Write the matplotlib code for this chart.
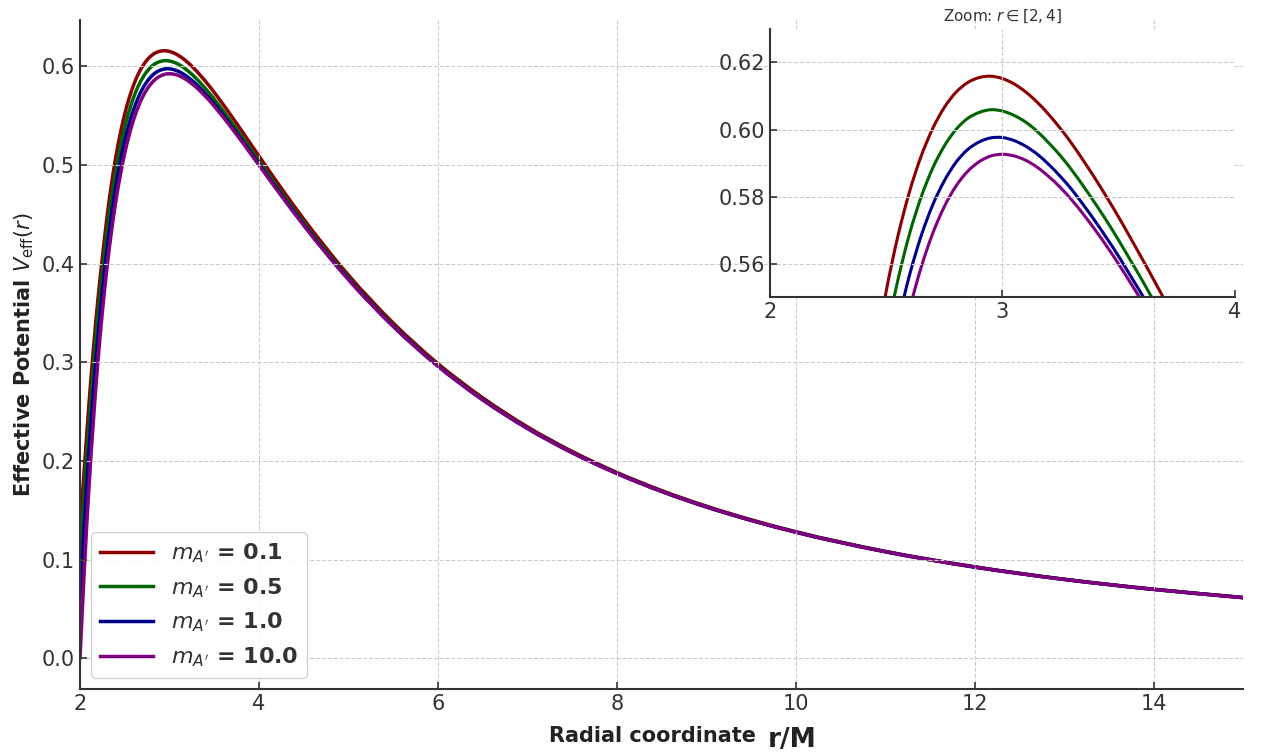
import numpy as np
import matplotlib
matplotlib.use("Agg")
import matplotlib.pyplot as plt
from matplotlib.path import Path
from matplotlib.patches import PathPatch
from matplotlib.lines import Line2D

# ---------------------------------------------------------------------------
# Data
# ---------------------------------------------------------------------------

r_vals = [2.0, 2.05, 2.1, 2.15, 2.2, 2.25, 2.3, 2.35, 2.4, 2.45, 2.5, 2.55,
          2.6, 2.65, 2.7, 2.75, 2.8, 2.85, 2.9, 2.95, 3.0, 3.05, 3.1, 3.15,
          3.2, 3.25, 3.3, 3.35, 3.4, 3.45, 3.5, 3.55, 3.6, 3.65, 3.7, 3.8,
          3.9, 4.0, 4.25, 4.5, 5.0, 5.5, 6.0, 6.5, 7.0, 7.5, 8.0, 8.5, 9.0,
          9.5, 10.0, 11.0, 12.0, 13.0, 14.0, 15.0]

v_m01 = [0.1300, 0.1950, 0.2580, 0.3140, 0.3640, 0.4063, 0.4460, 0.4797,
         0.5081, 0.5319, 0.5518, 0.5681, 0.5814, 0.5920, 0.6003, 0.6066,
         0.6111, 0.6140, 0.6155, 0.6159, 0.6152, 0.6136, 0.6112, 0.6081,
         0.6044, 0.6002, 0.5956, 0.5905, 0.5852, 0.5796, 0.5738, 0.5677,
         0.5615, 0.5552, 0.5488, 0.5358, 0.5225, 0.5093, 0.4766, 0.4454,
         0.3886, 0.3401, 0.2989, 0.2643, 0.2348, 0.2099, 0.1886, 0.1702,
         0.1544, 0.1406, 0.1285, 0.1086, 0.0929, 0.0803, 0.0702, 0.0618]

v_m05 = [0.0950, 0.1700, 0.2368, 0.2955, 0.3470, 0.3909, 0.4309, 0.4650,
         0.4939, 0.5181, 0.5383, 0.5550, 0.5688, 0.5798, 0.5885, 0.5951,
         0.6000, 0.6033, 0.6051, 0.6059, 0.6055, 0.6042, 0.6022, 0.5994,
         0.5959, 0.5921, 0.5877, 0.5829, 0.5778, 0.5725, 0.5669, 0.5610,
         0.5551, 0.5489, 0.5427, 0.5300, 0.5171, 0.5042, 0.4722, 0.4417,
         0.3858, 0.3378, 0.2972, 0.2628, 0.2337, 0.2090, 0.1878, 0.1695,
         0.1538, 0.1401, 0.1281, 0.1083, 0.0927, 0.0802, 0.0700, 0.0617]

v_m1 = [0.0600, 0.1399, 0.2108, 0.2725, 0.3265, 0.3728, 0.4138, 0.4488,
        0.4785, 0.5035, 0.5246, 0.5421, 0.5565, 0.5682, 0.5775, 0.5847,
        0.5902, 0.5940, 0.5963, 0.5975, 0.5976, 0.5967, 0.5950, 0.5926,
        0.5895, 0.5859, 0.5819, 0.5773, 0.5725, 0.5674, 0.5621, 0.5564,
        0.5507, 0.5447, 0.5387, 0.5264, 0.5138, 0.5011, 0.4697, 0.4396,
        0.3844, 0.3368, 0.2964, 0.2622, 0.2332, 0.2086, 0.1875, 0.1693,
        0.1536, 0.1400, 0.1280, 0.1082, 0.0926, 0.0801, 0.0700, 0.0616]

v_m10 = [0.0000, 0.0929, 0.1728, 0.2415, 0.3005, 0.3512, 0.3945, 0.4315,
         0.4630, 0.4896, 0.5120, 0.5307, 0.5462, 0.5588, 0.5690, 0.5770,
         0.5831, 0.5875, 0.5904, 0.5921, 0.5926, 0.5921, 0.5908, 0.5887,
         0.5859, 0.5826, 0.5788, 0.5745, 0.5699, 0.5650, 0.5598, 0.5543,
         0.5487, 0.5429, 0.5370, 0.5249, 0.5125, 0.5000, 0.4689, 0.4390,
         0.3840, 0.3366, 0.2963, 0.2622, 0.2332, 0.2086, 0.1875, 0.1693,
         0.1536, 0.1400, 0.1280, 0.1082, 0.0926, 0.0801, 0.0700, 0.0616]

series = [v_m01, v_m05, v_m1, v_m10]
labels = [r"$m_{A'}$ = 0.1", r"$m_{A'}$ = 0.5", r"$m_{A'}$ = 1.0", r"$m_{A'}$ = 10.0"]
colors = ["#8B0000", "#006400", "#00008B", "#800080"]

x_ticks = [2, 4, 6, 8, 10, 12, 14]
y_ticks = [0.0, 0.1, 0.2, 0.3, 0.4, 0.5, 0.6]
inset_x_ticks = [2, 3, 4]
inset_y_ticks = [0.56, 0.58, 0.60, 0.62]

TXT = "#333333"
plt.rcParams["font.family"] = ["DejaVu Sans"]


def smooth_path(x, y):
    """Cubic Hermite path through the data points (smooth rendering)."""
    x = np.asarray(x, float); y = np.asarray(y, float)
    m = np.gradient(y, x)
    verts = [(x[0], y[0])]; codes = [Path.MOVETO]
    for i in range(len(x) - 1):
        h = x[i + 1] - x[i]
        verts += [(x[i] + h / 3, y[i] + m[i] * h / 3),
                  (x[i + 1] - h / 3, y[i + 1] - m[i + 1] * h / 3),
                  (x[i + 1], y[i + 1])]
        codes += [Path.CURVE4] * 3
    return Path(verts, codes)


def style_axes(a):
    a.grid(True, ls="--", color="#cccccc", lw=0.8)
    a.tick_params(direction="in", length=5, width=1.2, colors=TXT, labelsize=15)
    for s in ["top", "right"]:
        a.spines[s].set_visible(False)
    for s in ["left", "bottom"]:
        a.spines[s].set_color(TXT)
        a.spines[s].set_linewidth(1.5)


# ---------------------------------------------------------------------------
# Main axes
# ---------------------------------------------------------------------------

fig = plt.figure(figsize=(12.66, 7.55), dpi=100)
ax = fig.add_axes([0.0632, 0.0874, 0.9186, 0.886])

for v, c in zip(series, colors):
    ax.add_patch(PathPatch(smooth_path(r_vals, v), fill=False, edgecolor=c,
                           lw=2.5, capstyle="round", joinstyle="round"))

ax.set_xlim(2, 15)
ax.set_ylim(-0.031, 0.647)
ax.set_xticks(x_ticks)
ax.set_yticks(y_ticks)
ax.set_yticklabels([f"{t:.1f}" for t in y_ticks])
style_axes(ax)

ax.set_xlabel("Radial coordinate", fontsize=15, fontweight="bold", color="#222222",
              va="baseline")
ax.xaxis.set_label_coords(0.4927, -0.0792)
ax.text(0.5916, -0.0867, "r/M", transform=ax.transAxes, fontsize=19,
        fontweight="bold", color="#222222", ha="left", va="baseline")
ax.set_ylabel(r"Effective Potential $V_{\rm eff}(r)$", fontsize=15,
              fontweight="bold", color="#222222")

handles = [Line2D([], [], color=c, lw=2.5) for c in colors]
leg = ax.legend(handles, labels, loc="lower left",
                prop={"size": 16, "weight": "bold"},
                handlelength=2.4, framealpha=0.9, edgecolor="#cccccc",
                fancybox=True)
for t in leg.get_texts():
    t.set_color(TXT)

# ---------------------------------------------------------------------------
# Inset zoom
# ---------------------------------------------------------------------------

axin = fig.add_axes([0.6082, 0.6066, 0.3673, 0.355])
for v, c in zip(series, colors):
    axin.add_patch(PathPatch(smooth_path(r_vals, v), fill=False, edgecolor=c,
                             lw=2.2, capstyle="round", joinstyle="round"))
axin.set_xlim(2, 4)
axin.set_ylim(0.55, 0.63)
axin.set_xticks(inset_x_ticks)
axin.set_yticks(inset_y_ticks)
axin.set_yticklabels([f"{t:.2f}" for t in inset_y_ticks])
style_axes(axin)
axin.set_title(r"Zoom: $r \in [2, 4]$", fontsize=11, color=TXT)

fig.savefig("out.png", dpi=100)
